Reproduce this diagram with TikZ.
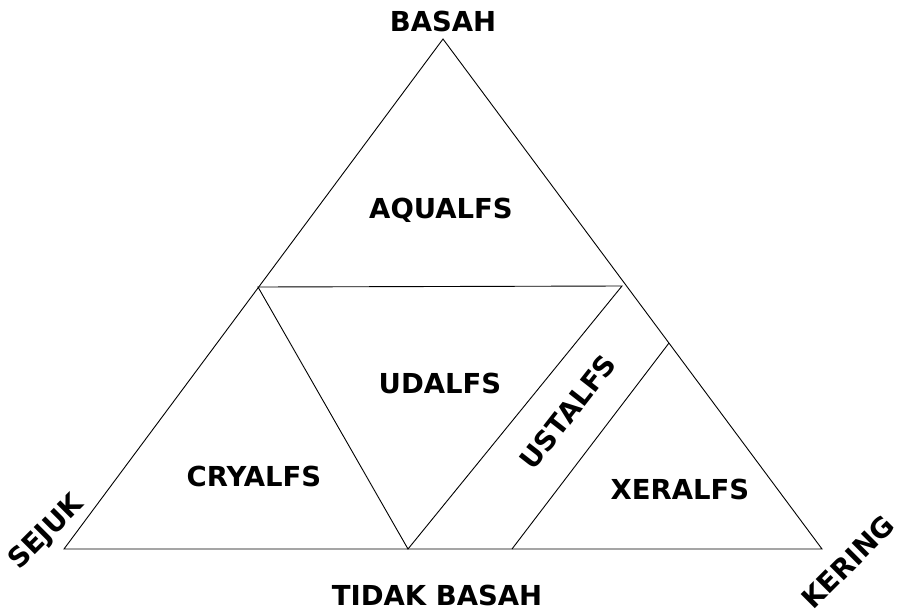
\documentclass[tikz,border=0pt]{standalone}
\usepackage{fontspec}
\setmainfont{DejaVu Sans}
\begin{document}
\begin{tikzpicture}[x=1pt,y=-1pt,
  lbl/.style={font=\fontsize{27.5}{30}\selectfont\bfseries, inner sep=0pt},
  edge/.style={draw=black, line width=0.9pt, line join=miter}]
\useasboundingbox (0,0) rectangle (898,611);
\coordinate (T) at (443,39);
\coordinate (L) at (64,549);
\coordinate (R) at (822,549);
\coordinate (HL) at (258,287);
\coordinate (HR) at (622,286);
\coordinate (B) at (408,549);
\coordinate (XT) at (669,343);
\coordinate (XB) at (512,549);
\draw[edge] (T) -- (L) -- (R) -- cycle;
\draw[edge] (HL) -- (HR) -- (B) -- cycle;
\draw[edge] (XT) -- (XB);
\node[lbl] (basah) at (443,21) {BASAH};
\node[lbl] (aqualfs) at (441,210) {AQUALFS};
\node[lbl] (udalfs) at (440,383) {UDALFS};
\node[lbl] (cryalfs) at (254,476) {CRYALFS};
\node[lbl] (xeralfs) at (680,489) {XERALFS};
\node[lbl, rotate=52] (ustalfs) at (568,412) {USTALFS};
\node[lbl, rotate=45] (sejuk) at (47,533) {SEJUK};
\node[lbl, rotate=45] (kering) at (848,562) {KERING};
\node[lbl] (tidak) at (437,595) {TIDAK BASAH};
\end{tikzpicture}
\end{document}
